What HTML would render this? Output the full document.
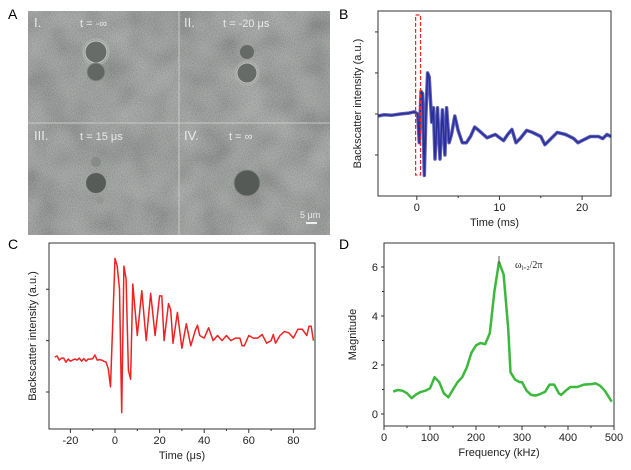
<!DOCTYPE html>
<html><head><meta charset="utf-8">
<style>
html,body{margin:0;padding:0;background:#fff;}
svg{display:block;font-family:"Liberation Sans",sans-serif;}
</style></head>
<body>
<svg id="fig" width="631" height="470" viewBox="0 0 631 470">
<defs>
<filter id="noise" x="0" y="0" width="100%" height="100%">
<feTurbulence type="fractalNoise" baseFrequency="1.2" numOctaves="1" seed="3" result="n"/>
<feColorMatrix type="matrix" values="1.2 0 0 0 -0.1  1.2 0 0 0 -0.1  1.2 0 0 0 -0.1  0 0 0 0 0.35" in="n"/>
</filter>
<filter id="blotch" x="0" y="0" width="100%" height="100%">
<feTurbulence type="fractalNoise" baseFrequency="0.03" numOctaves="2" seed="7" result="n"/>
<feColorMatrix type="matrix" values="1 0 0 0 -0.1  1 0 0 0 -0.1  1 0 0 0 -0.1  0 0 0 0 0.35" in="n"/>
</filter>
</defs>

<!-- Panel A -->
<g>
<text x="8" y="19" font-size="14">A</text>
<rect x="28" y="11" width="302" height="224" fill="#7b7f7c"/>
<rect x="28" y="11" width="302" height="224" filter="url(#blotch)"/>
<rect x="28" y="11" width="302" height="224" filter="url(#noise)"/>
<line x1="179" y1="11" x2="179" y2="235" stroke="#c8cac8" stroke-width="1"/>
<line x1="28" y1="123" x2="330" y2="123" stroke="#c8cac8" stroke-width="1"/>
<g fill="#e8e8e8" font-size="11">
<text x="34" y="27" font-size="13">I.</text>
<text x="80" y="27">t = -∞</text>
<text x="184" y="27" font-size="13">II.</text>
<text x="223" y="27">t = -20 μs</text>
<text x="34" y="140" font-size="13">III.</text>
<text x="80" y="140">t = 15 μs</text>
<text x="184" y="140" font-size="13">IV.</text>
<text x="229" y="140">t = ∞</text>
<text x="300" y="218" font-size="9">5 μm</text>
</g>
<rect x="306" y="222" width="11" height="2" fill="#eee"/>
<g>
<circle cx="96" cy="52" r="11" fill="#686c69" stroke="#c6c8c6" stroke-width="1"/>
<circle cx="96" cy="52" r="13" fill="none" stroke="#b8bab8" stroke-width="0.8"/>
<circle cx="96" cy="72" r="9" fill="#626764" stroke="#8a8e8b" stroke-width="1"/>
<circle cx="247" cy="52" r="7" fill="#656a67"/>
<circle cx="247" cy="73" r="10" fill="#666b68" stroke="#bfc1bf" stroke-width="1"/>
<circle cx="247" cy="73" r="12" fill="none" stroke="#b4b6b4" stroke-width="0.8"/>
<circle cx="96" cy="183" r="10" fill="#575c59"/>
<circle cx="96" cy="162" r="5" fill="#888c89"/>
<circle cx="100" cy="200" r="4" fill="#949895"/>
<circle cx="247" cy="183" r="13" fill="#555a57" stroke="#868a87" stroke-width="1"/>
</g>
</g>

<g id="panelB"></g>
<g id="panelC"></g>
<g id="panelD"></g>
</svg>

<script>
// Panel B data (time ms, backscatter a.u.)
const bTimes = [-4.7,-4,-3,-2,-1,-0.3,0.1,0.3,0.5,0.7,0.9,1.1,1.3,1.5,1.8,2.0,2.2,2.5,2.8,3.1,3.4,3.6,3.9,4.2,4.6,5.0,5.5,6.0,6.5,7.0,7.5,8.5,9.5,10.5,11.0,11.5,12.0,12.5,13.3,14,15,15.5,16,17,18,19,19.5,20,21,22,22.5,23,23.5];
const bValues = [0.95,0.98,0.97,1.0,1.02,1.05,1.0,0.3,1.55,1.5,-0.5,1.0,2.0,1.9,0.8,1.15,-0.1,1.15,-0.1,1.1,0.0,1.15,0.3,0.5,0.95,0.6,0.3,0.3,0.45,0.68,0.6,0.42,0.5,0.35,0.5,0.62,0.3,0.4,0.6,0.55,0.45,0.25,0.35,0.55,0.5,0.4,0.3,0.35,0.45,0.45,0.4,0.5,0.45];
const bXTicks = [0,10,20];
const bYTicks = [0,1,2,3];

// Panel C data (time µs, backscatter a.u.)
const cTimes = [-27,-26,-25,-24,-23,-22,-21,-20,-19,-18,-17,-16,-15,-14,-13,-12,-11,-10,-9,-8,-7,-6,-5,-4,-3,-2,0,1,2,3,4,5,6,7,8,10,12,14,16,18,20,21,22,24,25,26,28,30,32,34,36,37,38,40,42,44,46,48,50,52,54,56,57,58,60,62,64,66,68,70,71,72,74,76,78,80,82,84,86,87,88,89];
const cValues = [0.68,0.7,0.62,0.66,0.66,0.58,0.64,0.6,0.62,0.64,0.62,0.66,0.6,0.65,0.6,0.64,0.64,0.65,0.72,0.62,0.63,0.62,0.6,0.58,0.45,0.1,2.6,2.45,2.0,-0.4,2.45,2.2,0.42,0.25,2.1,1.1,1.97,1.0,1.92,1.1,1.87,1.87,1.0,1.72,1.6,0.95,1.55,0.85,1.33,0.9,1.2,1.3,1.1,1.05,1.25,1.0,1.1,1.0,1.1,1.0,1.05,1.05,0.9,0.9,1.1,1.05,1.05,1.12,0.95,1.0,1.12,0.95,1.1,1.18,1.15,1.05,1.22,1.22,1.1,1.28,1.28,1.0];
const cXTicks = [-20,0,20,40,60,80];
const cYTicks = [0,1,2];

// Panel D data (frequency kHz, magnitude)
const dFreqs = [20,30,40,50,60,70,80,90,100,110,120,130,140,150,160,170,180,190,200,210,220,230,240,250,260,270,275,285,295,300,310,320,330,340,350,360,370,380,385,395,405,420,435,450,460,470,480,495];
const dMags = [0.92,0.98,0.95,0.85,0.65,0.8,0.9,0.95,1.05,1.5,1.3,0.85,0.68,1.0,1.3,1.5,1.9,2.5,2.8,2.9,2.85,3.3,5.0,6.2,5.7,3.5,1.7,1.4,1.3,1.3,0.95,0.78,0.75,0.82,0.9,1.2,1.2,0.85,0.78,0.95,1.1,1.1,1.2,1.22,1.25,1.15,0.95,0.5];
const dXTicks = [0,100,200,300,400,500];
const dYTicks = [0,2,4,6];

const NS = "http://www.w3.org/2000/svg";
function mk(parent, tag, attrs, text) {
  const e = document.createElementNS(NS, tag);
  for (const k in attrs) e.setAttribute(k, attrs[k]);
  if (text !== undefined) e.textContent = text;
  parent.appendChild(e);
  return e;
}
function lin(d0, d1, r0, r1) { return v => r0 + (v - d0) / (d1 - d0) * (r1 - r0); }

function panel(g, o) {
  const x = lin(o.xd[0], o.xd[1], o.box[0], o.box[2]);
  const y = lin(o.yd[0], o.yd[1], o.box[3], o.box[1]);
  const lab = mk(g, 'text', {x: o.letter[0], y: o.letter[1], 'font-size': 14}, o.letterText);
  
  
  let d = '';
  o.xs.forEach((v, i) => { d += (i ? 'L' : 'M') + x(v).toFixed(1) + ',' + y(o.ys[i]).toFixed(1); });
  if (o.band) {
    const b = mk(g, 'path', {d: d, fill: 'none', stroke: o.color, 'stroke-width': o.band, 'stroke-linejoin': 'round', opacity: 0.75});
    
    
  }
  const p = mk(g, 'path', {d: d, fill: 'none', stroke: o.color, 'stroke-width': o.sw, 'stroke-linejoin': 'round'});
  
  
  const f = mk(g, 'rect', {x: o.box[0], y: o.box[1], width: o.box[2] - o.box[0], height: o.box[3] - o.box[1], fill: 'none', stroke: '#333', 'stroke-width': 1});
  
  
  o.xt.forEach((v, i) => {
    const xx = x(v);
    mk(g, 'line', {x1: xx, y1: o.box[3], x2: xx, y2: o.box[3] + 4, stroke: '#333'});
    if (i < o.xt.length - 1) {
      const xm = x((v + o.xt[i + 1]) / 2);
      mk(g, 'line', {x1: xm, y1: o.box[3], x2: xm, y2: o.box[3] + 2, stroke: '#333'});
    }
    const t = mk(g, 'text', {x: xx, y: o.box[3] + 15, 'font-size': 11, 'text-anchor': 'middle', fill: '#222'}, v);
    
    
  });
  o.yt.forEach((v, i) => {
    const yy = y(v);
    mk(g, 'line', {x1: o.box[0] - 3, y1: yy, x2: o.box[0], y2: yy, stroke: '#333'});
    if (o.ylabels) {
      const t = mk(g, 'text', {x: o.box[0] - 6, y: yy + 4, 'font-size': 11, 'text-anchor': 'end', fill: '#222'}, v);
      
      
    }
    if (o.minorY && i < o.yt.length - 1) {
      const ym = y((v + o.yt[i + 1]) / 2);
      mk(g, 'line', {x1: o.box[0] - 2, y1: ym, x2: o.box[0], y2: ym, stroke: '#333'});
    }
  });
  const xt = mk(g, 'text', {x: (o.box[0] + o.box[2]) / 2, y: o.box[3] + 30, 'font-size': 11, 'text-anchor': 'middle', fill: '#222'}, o.xTitle);
  
  
  const yc = (o.box[1] + o.box[3]) / 2;
  const yt = mk(g, 'text', {x: o.yTitleX, y: yc, 'font-size': 11, 'text-anchor': 'middle', fill: '#222', transform: 'rotate(-90 ' + o.yTitleX + ' ' + yc + ')'}, o.yTitle);
  
  
  return {x, y};
}

const gB = document.getElementById('panelB');
const sB = panel(gB, {box: [378, 11, 611, 196], xd: [-4.7, 23.5], yd: [-1, 3.51], xs: bTimes, ys: bValues, color: '#2a2e9c', sw: 1.5, band: 3.5,
  seriesName: 'backscatter-ms-series', xt: bXTicks, yt: bYTicks, ylabels: false, xTitle: 'Time (ms)', yTitle: 'Backscatter intensity (a.u.)', yTitleX: 361,
  letter: [339, 19], letterText: 'B'});
const zb = mk(gB, 'rect', {x: sB.x(-0.15), y: 15, width: sB.x(0.45) - sB.x(-0.15), height: 160, fill: 'none', stroke: '#e8282a', 'stroke-width': 1.2, 'stroke-dasharray': '4,2'});



const gC = document.getElementById('panelC');
panel(gC, {box: [49, 243, 315, 429], xd: [-29.6, 89.7], yd: [-0.72, 2.9], xs: cTimes, ys: cValues, color: '#ee2222', sw: 1.5,
  seriesName: 'backscatter-us-series', xt: cXTicks, yt: cYTicks, ylabels: false, xTitle: 'Time (μs)', yTitle: 'Backscatter intensity (a.u.)', yTitleX: 36,
  letter: [8, 249], letterText: 'C'});

const gD = document.getElementById('panelD');
const sD = panel(gD, {box: [384, 243, 614, 426], xd: [0, 500], yd: [-0.49, 6.98], xs: dFreqs, ys: dMags, color: '#3cb83c', sw: 2.5,
  seriesName: 'magnitude-spectrum-series', xt: dXTicks, yt: dYTicks, ylabels: true, minorY: true, xTitle: 'Frequency (kHz)', yTitle: 'Magnitude', yTitleX: 356,
  letter: [339, 249], letterText: 'D'});
mk(gD, 'line', {x1: sD.x(250), y1: sD.y(6.45), x2: sD.x(250), y2: sD.y(6.1), stroke: '#555'});
const ann = mk(gD, 'text', {x: 515, y: 268, 'font-size': 10, fill: '#222', 'font-family': '"Liberation Serif",serif'});


mk(ann, 'tspan', {}, 'ω');
mk(ann, 'tspan', {'font-size': 6, dy: 2}, 'l=2');
mk(ann, 'tspan', {dy: -2}, '/2π');
</script>
</body></html>
